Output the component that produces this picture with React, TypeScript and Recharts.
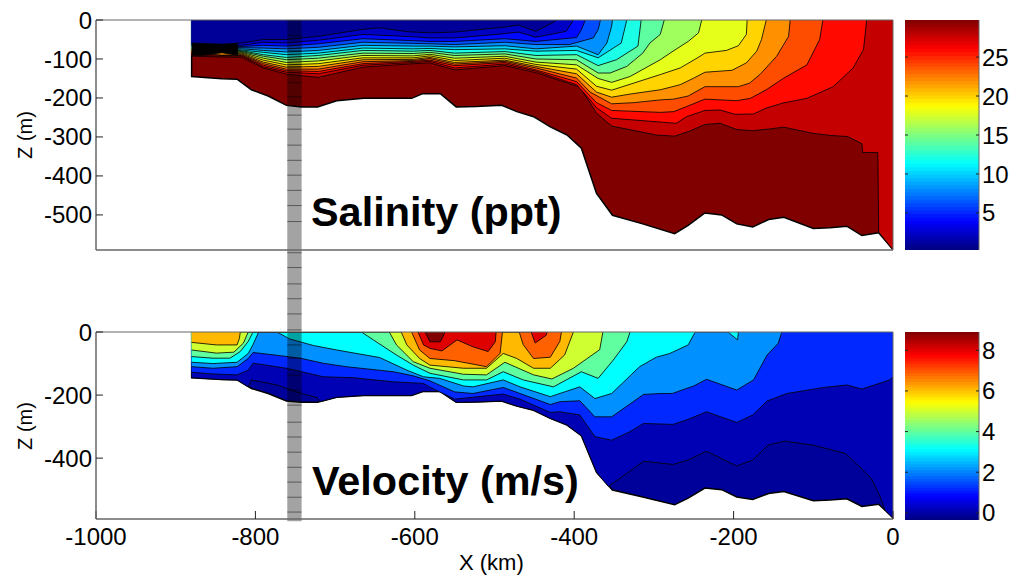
import React from 'react';
import { ComposedChart, Area, XAxis, YAxis, ReferenceArea, ReferenceLine } from 'recharts';

type Pair = [number, number];

const xTicks = [-1000, -800, -600, -400, -200, 0];
const salinityDepthTicks = [0, -100, -200, -300, -400, -500];
const velocityDepthTicks = [0, -200, -400];
const salinityBarTicks = [5, 10, 15, 20, 25];
const velocityBarTicks = [0, 2, 4, 6, 8];

// sea floor, km / m
const seaFloor: Pair[] = [
  [-880, 0], [-880, -145], [-842, -151], [-823, -152], [-805, -179], [-784, -195], [-761, -219], [-742, -223], [-722, -223],
  [-698, -207], [-664, -201], [-604, -201], [-590, -189], [-568, -189], [-548, -223], [-523, -222], [-491, -219],
  [-472, -235], [-451, -248], [-430, -274], [-409, -295], [-391, -329], [-372, -445], [-352, -501], [-314, -523],
  [-274, -548], [-257, -527], [-236, -495], [-215, -500], [-196, -523], [-176, -531], [-156, -512], [-137, -506],
  [-100, -535], [-79, -533], [-58, -529], [-39, -553], [-18, -546], [0, -589],
];

// salinity contours, freshest first
const s1: Pair[] = [[-880, -59], [-842, -62], [-817, -59], [-790, -50], [-761, -50], [-721, -42], [-665, -24], [-644, -20], [-610, -30], [-581, -33], [-550, -31], [-487, -18], [-470, -13], [-448, -29], [-427, -7], [-422, 0]];
const s2: Pair[] = [[-880, -61], [-842, -64], [-817, -65], [-790, -57], [-761, -59], [-721, -52], [-665, -37], [-602, -43], [-581, -46], [-550, -46], [-487, -35], [-470, -31], [-448, -44], [-410, -29], [-401, 0]];
const s3: Pair[] = [[-880, -63], [-842, -66], [-817, -68], [-790, -65], [-761, -67], [-721, -61], [-665, -48], [-602, -53], [-581, -55], [-550, -55], [-487, -48], [-448, -55], [-397, -45], [-391, -25], [-386, 0]];
const s4: Pair[] = [[-880, -65], [-842, -68], [-817, -71], [-790, -72], [-761, -74], [-721, -70], [-665, -57], [-602, -60], [-581, -61], [-550, -63], [-487, -57], [-448, -63], [-406, -63], [-376, -46], [-370, -25], [-367, 0]];
const s5: Pair[] = [[-880, -67], [-842, -70], [-817, -74], [-790, -78], [-761, -82], [-721, -78], [-665, -65], [-602, -67], [-581, -67], [-550, -69], [-487, -66], [-448, -74], [-397, -67], [-370, -89], [-359, -59], [-353, -16], [-352, 0]];
const s6: Pair[] = [[-880, -69], [-842, -72], [-817, -77], [-790, -83], [-761, -89], [-721, -85], [-665, -72], [-602, -74], [-581, -73], [-550, -76], [-487, -74], [-448, -80], [-397, -78], [-370, -97], [-341, -59], [-334, 0]];
const s7: Pair[] = [[-880, -74], [-842, -74], [-817, -79], [-790, -89], [-761, -96], [-721, -91], [-665, -78], [-602, -80], [-581, -78], [-550, -85], [-487, -81], [-448, -91], [-397, -89], [-370, -117], [-347, -102], [-320, -67], [-316, 0]];
const s8: Pair[] = [[-880, -76], [-842, -76], [-817, -81], [-790, -93], [-761, -102], [-721, -98], [-665, -85], [-602, -86], [-581, -83], [-550, -91], [-487, -87], [-448, -100], [-397, -102], [-370, -136], [-355, -136], [-334, -119], [-314, -85], [-305, -59], [-292, -37], [-287, 0]];
const s9: Pair[] = [[-880, -78], [-842, -78], [-817, -83], [-790, -98], [-761, -109], [-721, -105], [-665, -91], [-602, -92], [-581, -88], [-550, -98], [-487, -93], [-448, -108], [-397, -115], [-370, -150], [-353, -160], [-330, -145], [-292, -102], [-276, -80], [-257, -55], [-244, -33], [-240, 0]];
const s10: Pair[] = [[-880, -80], [-842, -80], [-817, -85], [-790, -103], [-761, -115], [-721, -112], [-665, -97], [-602, -97], [-581, -92], [-550, -104], [-487, -98], [-448, -114], [-397, -126], [-372, -170], [-353, -180], [-330, -165], [-292, -140], [-267, -123], [-246, -98], [-236, -85], [-209, -78], [-194, -66], [-184, -37], [-183, 0]];
const s11: Pair[] = [[-880, -82], [-842, -83], [-817, -87], [-790, -108], [-761, -121], [-721, -119], [-665, -102], [-602, -101], [-581, -96], [-550, -109], [-487, -103], [-448, -119], [-397, -138], [-372, -185], [-353, -198], [-330, -190], [-292, -179], [-267, -166], [-250, -149], [-236, -134], [-202, -129], [-184, -110], [-171, -80], [-165, -50], [-159, 0]];
const s12: Pair[] = [[-880, -84], [-842, -90], [-817, -89], [-790, -112], [-761, -126], [-721, -126], [-665, -107], [-602, -104], [-581, -99], [-550, -113], [-487, -106], [-448, -123], [-397, -149], [-380, -185], [-353, -215], [-325, -212], [-292, -205], [-275, -203], [-257, -195], [-236, -171], [-194, -171], [-180, -162], [-167, -140], [-146, -93], [-131, -42], [-129, 0]];
const s13: Pair[] = [[-880, -87], [-842, -91], [-817, -91], [-790, -116], [-761, -130], [-721, -132], [-665, -112], [-602, -106], [-581, -103], [-550, -117], [-487, -109], [-448, -128], [-397, -158], [-380, -195], [-372, -212], [-353, -232], [-292, -237], [-275, -235], [-259, -222], [-236, -203], [-196, -207], [-179, -201], [-159, -179], [-137, -149], [-108, -115], [-92, -50], [-88, 0]];
const s14: Pair[] = [[-880, -90], [-842, -93], [-817, -93], [-790, -120], [-761, -134], [-721, -138], [-665, -116], [-602, -109], [-581, -106], [-550, -123], [-487, -113], [-448, -131], [-397, -166], [-380, -205], [-372, -225], [-353, -252], [-272, -265], [-259, -248], [-236, -232], [-217, -231], [-198, -242], [-175, -241], [-159, -226], [-138, -213], [-108, -201], [-75, -171], [-50, -123], [-37, -76], [-33, 0]];
const s15: Pair[] = [[-880, -93], [-842, -95], [-817, -96], [-790, -123], [-761, -139], [-721, -147], [-665, -121], [-602, -112], [-581, -110], [-550, -128], [-487, -117], [-448, -135], [-393, -172], [-380, -213], [-372, -239], [-353, -272], [-297, -295], [-274, -298], [-255, -285], [-236, -268], [-217, -265], [-196, -281], [-176, -284], [-157, -280], [-137, -275], [-100, -291], [-79, -296], [-57, -299], [-39, -317], [-38, -340], [-19, -340], [-18, -544], [0, -590]];
// where the lines merge into solid black at the shelf edge
const mergedLines: Pair[] = [[-880, -91], [-860, -89], [-842, -84], [-830, -88], [-822, -90]];
const salinityContours = [s15, s14, s13, s12, s11, s10, s9, s8, s7, s6, s5, s4, s3, s2, mergedLines, s1];
const salinityFills = ['#800000', '#c40000', '#ff0900', '#ff4d00', '#ff9000', '#ffd400', '#e6ff1a', '#a1ff5d', '#5dffa1', '#1affe6', '#00d4ff', '#0090ff', '#004dff', '#0009ff', '#0000c4', '#000000', '#000098'];

// velocity contours, slowest first
const v1: Pair[] = [[-880, -145], [-842, -151], [-823, -152], [-809, -174], [-805, -152], [-773, -168], [-742, -195], [-723, -208], [-719, -221], [-698, -207], [-664, -201], [-604, -201], [-590, -189], [-568, -189], [-548, -223], [-523, -222], [-491, -219], [-472, -235], [-451, -248], [-430, -274], [-409, -295], [-391, -329], [-372, -445], [-357, -490], [-355, -486], [-313, -410], [-276, -420], [-257, -406], [-234, -378], [-196, -425], [-176, -406], [-157, -359], [-136, -346], [-100, -359], [-60, -385], [-46, -417], [-27, -465], [-16, -523], [-10, -565], [0, -591]];
const v2: Pair[] = [[-880, -128], [-853, -133], [-823, -136], [-809, -121], [-803, -99], [-761, -115], [-715, -142], [-677, -145], [-627, -158], [-589, -163], [-581, -175], [-550, -213], [-489, -197], [-468, -213], [-430, -255], [-418, -253], [-393, -263], [-374, -332], [-353, -343], [-330, -316], [-313, -290], [-276, -293], [-257, -277], [-234, -253], [-196, -287], [-176, -263], [-158, -219], [-133, -195], [-87, -176], [-58, -168], [-39, -181], [-4, -152], [0, -142]];
const v3: Pair[] = [[-880, -110], [-853, -115], [-823, -110], [-809, -84], [-803, -65], [-769, -75], [-742, -84], [-715, -99], [-686, -110], [-627, -126], [-602, -139], [-581, -155], [-550, -190], [-527, -195], [-489, -176], [-468, -195], [-430, -230], [-418, -221], [-393, -218], [-374, -269], [-353, -269], [-313, -198], [-292, -195], [-277, -195], [-250, -171], [-234, -150], [-196, -184], [-175, -152], [-158, -73], [-144, -36], [-140, -4], [-139, 0]];
const v4: Pair[] = [[-880, -96], [-853, -100], [-823, -96], [-809, -68], [-803, -40], [-796, 0], [-773, 0], [-757, -22], [-727, -43], [-698, -57], [-644, -81], [-610, -121], [-589, -142], [-569, -147], [-539, -171], [-527, -174], [-489, -152], [-468, -174], [-430, -205], [-393, -174], [-374, -211], [-353, -195], [-318, -110], [-297, -80], [-280, -68], [-257, -41], [-249, -4], [-248, 0], [-207, 0], [-195, -25], [-194, 0]];
const v5: Pair[] = [[-880, -78], [-853, -83], [-832, -83], [-819, -62], [-809, -30], [-803, 0], [-667, 0], [-652, -25], [-623, -73], [-602, -105], [-581, -131], [-539, -152], [-510, -152], [-489, -126], [-464, -152], [-426, -174], [-391, -126], [-370, -147], [-351, -89], [-334, -31], [-330, 0]];
const v6: Pair[] = [[-880, -57], [-849, -67], [-827, -64], [-815, -35], [-809, 0], [-632, 0], [-623, -41], [-602, -94], [-581, -115], [-539, -134], [-510, -136], [-487, -96], [-451, -136], [-428, -149], [-401, -115], [-368, -56], [-364, 0]];
const v7: Pair[] = [[-880, -33], [-849, -41], [-823, -41], [-820, -20], [-819, 0], [-617, 0], [-610, -41], [-594, -84], [-581, -105], [-539, -115], [-510, -115], [-489, -68], [-472, -84], [-451, -115], [-430, -115], [-412, -73], [-401, 0]];
const v8: Pair[] = [[-604, 0], [-594, -57], [-581, -84], [-550, -91], [-510, -110], [-493, -68], [-490, 0], [-469, 0], [-464, -40], [-451, -84], [-430, -80], [-418, -30], [-416, 0]];
const v9: Pair[] = [[-596, 0], [-589, -41], [-581, -52], [-566, -60], [-547, -25], [-527, -47], [-508, -62], [-499, -31], [-498, 0], [-454, 0], [-449, -35], [-435, -10], [-434, 0]];
const v10: Pair[] = [[-587, 0], [-581, -31], [-568, -31], [-562, 0]];
const velocityContours = [v1, v2, v3, v4, v5, v6, v7, v8, v9, v10];
const velocityFills = ['#00009a', '#0000b4', '#0028ff', '#0090ff', '#00ffff', '#60ff9f', '#cfff30', '#ffb900', '#ff6000', '#df0000', '#800000'];

// grey section marker and its layer marks
const markerRange: Pair = [-760, -742];
const salinityMarkerEnd = -803;
const salinityMarkerLayers = [-40, -79, -120, -161, -197, -244, -280, -321, -360, -398, -437, -476, -517, -597, -635, -677, -715, -754, -795];
const velocityMarkerEnd = -600;
const velocityMarkerLayers = [-41, -83, -137, -184, -232, -286, -333, -381, -429, -476, -524, -571];

const FONT = '"Liberation Sans", Arial, sans-serif';
const AXIS = '#666666';
const AXIS_BAND = 30;
const BAR_PAD = 14;

const toRows = (pairs: Pair[]) => pairs.map(([x, z]) => ({ x, z }));

function jet(t: number) {
  const c = (v: number) => Math.round(Math.max(0, Math.min(1, v)) * 255);
  return `rgb(${c(Math.min(4 * t - 1.5, -4 * t + 4.5))},${c(Math.min(4 * t - 0.5, -4 * t + 3.5))},${c(Math.min(4 * t + 0.5, -4 * t + 2.5))})`;
}

function Section({ top, plotBottom, height, depth, depthTicks, contours, fills, markerEnd, layers, showX, yLabel }: any) {
  const tickStyle = { fill: '#000', fontSize: 24, fontFamily: FONT };
  return (
    <div style={{ position: 'absolute', left: 0, top: 0 }}>
      <ComposedChart
        width={900}
        height={height}
        data={toRows(seaFloor)}
        margin={{ top, right: 7, left: 0, bottom: height - plotBottom - AXIS_BAND }}
      >
        <XAxis
          dataKey="x"
          type="number"
          domain={[-1000, 0]}
          ticks={xTicks}
          interval={0}
          height={AXIS_BAND}
          tick={showX ? tickStyle : false}
          tickLine={{ stroke: '#222' }}
          tickSize={-8}
          tickMargin={17}
          axisLine={{ stroke: AXIS, strokeWidth: 1.5 }}
          allowDataOverflow
        />
        <YAxis
          dataKey="z"
          type="number"
          width={96}
          domain={[depth, 0]}
          ticks={depthTicks}
          interval={0}
          tick={tickStyle}
          tickLine={{ stroke: '#222' }}
          tickSize={-7}
          tickMargin={11}
          axisLine={{ stroke: AXIS, strokeWidth: 1.5 }}
          allowDataOverflow
        />
        <Area dataKey="z" type="linear" fill={fills[0]} fillOpacity={1} stroke="#000" strokeWidth={1.5} dot={false} isAnimationActive={false} />
        {contours.map((line: Pair[], i: number) => (
          <Area
            key={i}
            data={toRows(line)}
            dataKey="z"
            type="linear"
            fill={fills[i + 1]}
            fillOpacity={1}
            stroke="#000"
            strokeOpacity={0.9}
            strokeWidth={0.9}
            dot={false}
            isAnimationActive={false}
          />
        ))}
        <ReferenceLine y={0} stroke={AXIS} strokeWidth={1} />
        <ReferenceLine x={0} stroke={AXIS} strokeWidth={1} />
        <ReferenceArea x1={markerRange[0]} x2={markerRange[1]} y1={0} y2={markerEnd} fill="#000" fillOpacity={0.36} stroke="none" ifOverflow="visible" />
        {layers.map((z: number) => (
          <ReferenceLine
            key={z}
            segment={[{ x: markerRange[0], y: z }, { x: markerRange[1], y: z }]}
            stroke="#000"
            strokeOpacity={0.45}
            strokeWidth={1}
            ifOverflow="visible"
          />
        ))}
      </ComposedChart>
      <div
        style={{
          position: 'absolute', left: 25, top: (top + plotBottom) / 2, fontFamily: FONT, fontSize: 20,
          transform: 'translate(-50%, -50%) rotate(-90deg)', whiteSpace: 'nowrap',
        }}
      >
        {yLabel}
      </div>
    </div>
  );
}

function ColorBar({ top, bottom, domain, ticks }: any) {
  const steps = Array.from({ length: 64 }, (_, i) => i);
  const span = domain[1] - domain[0];
  return (
    <div style={{ position: 'absolute', left: 905, top: top - BAR_PAD }}>
      <ComposedChart
        width={107}
        height={bottom - top + 2 * BAR_PAD}
        data={[{ x: 0 }, { x: 1 }]}
        margin={{ top: BAR_PAD, right: 0, left: 0, bottom: BAR_PAD }}
      >
        <XAxis dataKey="x" type="number" domain={[0, 1]} hide />
        <YAxis
          yAxisId="right"
          orientation="right"
          width={33}
          type="number"
          domain={domain}
          ticks={ticks}
          interval={0}
          tick={{ fill: '#000', fontSize: 24, fontFamily: FONT, textAnchor: 'start' }}
          tickLine={{ stroke: '#222' }}
          tickSize={-3}
          tickMargin={6}
          axisLine={{ stroke: AXIS }}
          allowDataOverflow
        />
        {steps.map((i) => (
          <ReferenceArea
            key={i}
            yAxisId="right"
            y1={domain[0] + (span * i) / 64}
            y2={domain[1]}
            fill={jet((i + 0.5) / 64)}
            fillOpacity={1}
            stroke="none"
          />
        ))}
        {ticks.map((t: number) => (
          <ReferenceLine key={t} yAxisId="right" segment={[{ x: 0, y: t }, { x: 0.04, y: t }]} stroke="#222" />
        ))}
      </ComposedChart>
    </div>
  );
}

const titleStyle: React.CSSProperties = {
  position: 'absolute', fontFamily: FONT, fontWeight: 700, fontSize: 41.4, color: '#000', whiteSpace: 'nowrap', lineHeight: '46px',
};

export default function App() {
  return (
    <div style={{ position: 'absolute', left: 0, top: 0, width: 1012, height: 576, background: '#fff', overflow: 'hidden' }}>
      <Section
        top={20}
        plotBottom={250}
        height={336}
        depth={-590}
        depthTicks={salinityDepthTicks}
        contours={salinityContours}
        fills={salinityFills}
        markerEnd={salinityMarkerEnd}
        layers={salinityMarkerLayers}
        showX={false}
        yLabel="Z (m)"
      />
      <Section
        top={332}
        plotBottom={519}
        height={576}
        depth={-593}
        depthTicks={velocityDepthTicks}
        contours={velocityContours}
        fills={velocityFills}
        markerEnd={velocityMarkerEnd}
        layers={velocityMarkerLayers}
        showX
        yLabel="Z (m)"
      />
      <ColorBar top={20} bottom={250} domain={[0.25, 29.75]} ticks={salinityBarTicks} />
      <ColorBar top={332} bottom={520} domain={[-0.35, 8.9]} ticks={velocityBarTicks} />
      <div style={{ position: 'absolute', left: 459, top: 551, fontFamily: FONT, fontSize: 22, lineHeight: '24px' }}>X (km)</div>
      <div style={{ ...titleStyle, left: 311, top: 189 }}>Salinity (ppt)</div>
      <div style={{ ...titleStyle, left: 312, top: 458 }}>Velocity (m/s)</div>
    </div>
  );
}
